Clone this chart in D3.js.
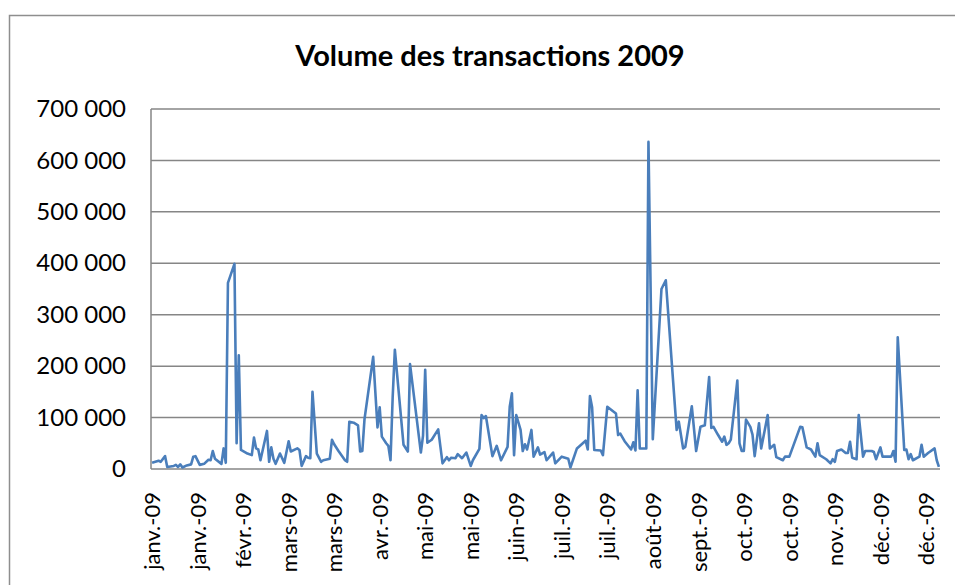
<!DOCTYPE html>
<html>
<head>
<meta charset="utf-8">
<script src="https://cdn.jsdelivr.net/npm/d3@7"></script>
<style>
  body { margin: 0; background: #fff; }
  text { font-family: Lato, "Open Sans", sans-serif; fill: #000; }
</style>
</head>
<body>
<script>
// trading days 2009 and the volume of each
var dates = [
  "2009-01-02","2009-01-05","2009-01-06","2009-01-08","2009-01-09","2009-01-12","2009-01-13","2009-01-14",
  "2009-01-15","2009-01-16","2009-01-18","2009-01-20","2009-01-21","2009-01-22","2009-01-24","2009-01-26",
  "2009-01-28","2009-01-29","2009-01-30","2009-01-31","2009-02-03","2009-02-04","2009-02-05","2009-02-06",
  "2009-02-09","2009-02-10","2009-02-11","2009-02-12","2009-02-15","2009-02-17","2009-02-18","2009-02-19",
  "2009-02-20","2009-02-21","2009-02-24","2009-02-25","2009-02-26","2009-02-27","2009-02-28","2009-03-02",
  "2009-03-04","2009-03-06","2009-03-07","2009-03-10","2009-03-11","2009-03-12","2009-03-14","2009-03-15",
  "2009-03-16","2009-03-17","2009-03-19","2009-03-21","2009-03-22","2009-03-25","2009-03-26","2009-03-27",
  "2009-03-29","2009-04-01","2009-04-02","2009-04-03","2009-04-05","2009-04-07","2009-04-08","2009-04-09",
  "2009-04-10","2009-04-14","2009-04-16","2009-04-17","2009-04-18","2009-04-20","2009-04-21","2009-04-22",
  "2009-04-23","2009-04-24","2009-04-28","2009-04-30","2009-05-01","2009-05-06","2009-05-07","2009-05-08",
  "2009-05-09","2009-05-11","2009-05-14","2009-05-16","2009-05-18","2009-05-19","2009-05-20","2009-05-22",
  "2009-05-23","2009-05-25","2009-05-27","2009-05-29","2009-05-30","2009-06-02","2009-06-03","2009-06-04",
  "2009-06-05","2009-06-08","2009-06-10","2009-06-12","2009-06-15","2009-06-16","2009-06-17","2009-06-18",
  "2009-06-19","2009-06-21","2009-06-22","2009-06-23","2009-06-24","2009-06-26","2009-06-27","2009-06-29",
  "2009-06-30","2009-07-02","2009-07-03","2009-07-06","2009-07-07","2009-07-10","2009-07-13","2009-07-14",
  "2009-07-17","2009-07-21","2009-07-22","2009-07-23","2009-07-24","2009-07-25","2009-07-28","2009-07-29",
  "2009-07-31","2009-08-04","2009-08-05","2009-08-06","2009-08-08","2009-08-11","2009-08-12","2009-08-13",
  "2009-08-14","2009-08-15","2009-08-18","2009-08-19","2009-08-21","2009-08-25","2009-08-27","2009-09-01",
  "2009-09-02","2009-09-04","2009-09-05","2009-09-08","2009-09-10","2009-09-12","2009-09-14","2009-09-16",
  "2009-09-17","2009-09-18","2009-09-20","2009-09-22","2009-09-23","2009-09-24","2009-09-25","2009-09-26",
  "2009-09-29","2009-09-30","2009-10-01","2009-10-02","2009-10-03","2009-10-05","2009-10-06","2009-10-07",
  "2009-10-09","2009-10-10","2009-10-13","2009-10-14","2009-10-16","2009-10-17","2009-10-20","2009-10-21",
  "2009-10-23","2009-10-28","2009-10-29","2009-10-31","2009-11-02","2009-11-04","2009-11-05","2009-11-06",
  "2009-11-09","2009-11-11","2009-11-12","2009-11-13","2009-11-14","2009-11-16","2009-11-18","2009-11-19",
  "2009-11-20","2009-11-21","2009-11-23","2009-11-24","2009-11-26","2009-11-27","2009-11-30","2009-12-01",
  "2009-12-02","2009-12-04","2009-12-05","2009-12-09","2009-12-10","2009-12-11","2009-12-12","2009-12-15",
  "2009-12-16","2009-12-17","2009-12-18","2009-12-19","2009-12-22","2009-12-23","2009-12-24","2009-12-26",
  "2009-12-29","2009-12-30","2009-12-31"
];
var volumes = [
  12000,16000,14000,25000,4000,6000,8000,4000,
  9000,3000,7000,9000,24000,25000,8000,10000,
  18000,17000,35000,20000,10000,40000,12000,362000,
  399000,50000,221000,37000,30000,27000,61000,40000,
  38000,17000,74000,14000,42000,20000,10000,30000,
  12000,54000,34000,40000,37000,6000,25000,22000,
  21000,150000,30000,14000,17000,20000,57000,48000,
  35000,17000,14000,92000,90000,85000,34000,35000,
  97000,218000,81000,120000,63000,50000,45000,17000,
  140000,232000,47000,34000,204000,32000,65000,193000,
  51000,57000,77000,11000,23000,17000,22000,21000,
  29000,21000,32000,6000,17000,39000,105000,99000,
  103000,25000,45000,17000,43000,121000,147000,27000,
  105000,76000,35000,48000,38000,76000,24000,42000,
  28000,33000,17000,32000,11000,24000,20000,3000,
  40000,55000,38000,142000,120000,37000,36000,27000,
  121000,108000,66000,69000,54000,38000,52000,36000,
  153000,40000,40000,636000,58000,350000,367000,76000,
  92000,40000,43000,122000,35000,82000,85000,179000,
  80000,82000,67000,53000,63000,47000,50000,57000,
  172000,50000,35000,35000,96000,82000,67000,25000,
  89000,40000,105000,40000,47000,23000,17000,24000,
  24000,82000,81000,42000,38000,24000,50000,27000,
  19000,11000,19000,14000,35000,38000,31000,31000,
  53000,22000,19000,105000,24000,35000,35000,33000,
  19000,42000,24000,24000,35000,14000,256000,37000,
  38000,19000,29000,17000,24000,47000,24000,31000,
  40000,17000,4000
];
var yTicks = [0, 100000, 200000, 300000, 400000, 500000, 600000, 700000];
var xTickLabels = ["janv.-09","janv.-09","févr.-09","mars-09","mars-09","avr.-09","mai-09","mai-09","juin-09",
  "juil.-09","juil.-09","août-09","sept.-09","oct.-09","oct.-09","nov.-09","déc.-09","déc.-09"];
var title = "Volume des transactions 2009";

var width = 955, height = 585;
var plotLeft = 151, plotRight = 940, plotTop = 109, plotBottom = 469;

var parse = d3.timeParse("%Y-%m-%d");
var data = dates.map(function(d, i) { return { date: parse(d), v: volumes[i] }; });

var svg = d3.select("body").append("svg")
  .attr("width", width)
  .attr("height", height);

svg.append("rect") //chart frame
  .attr("x", 9.5).attr("y", 15.5)
  .attr("width", 1000).attr("height", 1000)
  .attr("fill", "#fff")
  .attr("stroke", "#8e8e8e")
  .attr("stroke-width", 1.5);

var x = d3.scaleTime()
  .domain([new Date(2009, 0, 1, 12), new Date(2009, 11, 31, 12)])
  .range([plotLeft, plotRight]);
var y = d3.scaleLinear()
  .domain([0, 700000])
  .range([plotBottom, plotTop]);

// excel puts a label every 21 days from the first date
var tickDates = xTickLabels.map(function(d, i) { return d3.timeDay.offset(parse(dates[0]), 21 * i); });

var fmt = d3.formatLocale({ decimal: ",", thousands: " ", grouping: [3], currency: ["", " €"] }).format(",d");

// gridlines
svg.append("g")
  .selectAll("line")
  .data(yTicks)
  .enter().append("line")
  .attr("x1", plotLeft).attr("x2", plotRight)
  .attr("y1", function(d) { return y(d); })
  .attr("y2", function(d) { return y(d); })
  .attr("stroke", "#868686")
  .attr("stroke-width", 1.5);

svg.append("line") //vertical axis line
  .attr("x1", plotLeft).attr("x2", plotLeft)
  .attr("y1", plotTop).attr("y2", plotBottom)
  .attr("stroke", "#868686")
  .attr("stroke-width", 1.5);

var yAxis = svg.append("g")
  .attr("transform", "translate(" + (plotLeft - 25) + ",0)")
  .call(d3.axisLeft(y).tickValues(yTicks).tickFormat(fmt).tickSize(0).tickPadding(0));
yAxis.select(".domain").remove();
yAxis.selectAll("text")
  .style("font-size", "24px")
  .style("font-family", "Lato, sans-serif")
  .attr("fill", "#000");

var xAxis = svg.append("g")
  .attr("transform", "translate(0," + plotBottom + ")")
  .call(d3.axisBottom(x).tickValues(tickDates).tickFormat(function(d, i) { return xTickLabels[i]; }).tickSize(0));
xAxis.select(".domain").remove();
xAxis.selectAll("text")
  .style("font-size", "22px")
  .style("font-family", "Lato, sans-serif")
  .attr("fill", "#000")
  .attr("text-anchor", "end")
  .attr("transform", "rotate(-90)")
  .attr("x", -23)
  .attr("y", 0)
  .attr("dy", "0.35em");

var line = d3.line()
  .x(function(d) { return x(d.date); })
  .y(function(d) { return y(d.v); });

svg.append("path")
  .datum(data)
  .attr("d", line)
  .attr("fill", "none")
  .attr("stroke", "#4a7ebb")
  .attr("stroke-width", 2.6)
  .attr("stroke-linejoin", "round");

svg.append("text")
  .attr("x", 490)
  .attr("y", 66)
  .attr("text-anchor", "middle")
  .style("font-size", "29px")
  .style("font-weight", "bold")
  .text(title);
</script>
</body>
</html>
